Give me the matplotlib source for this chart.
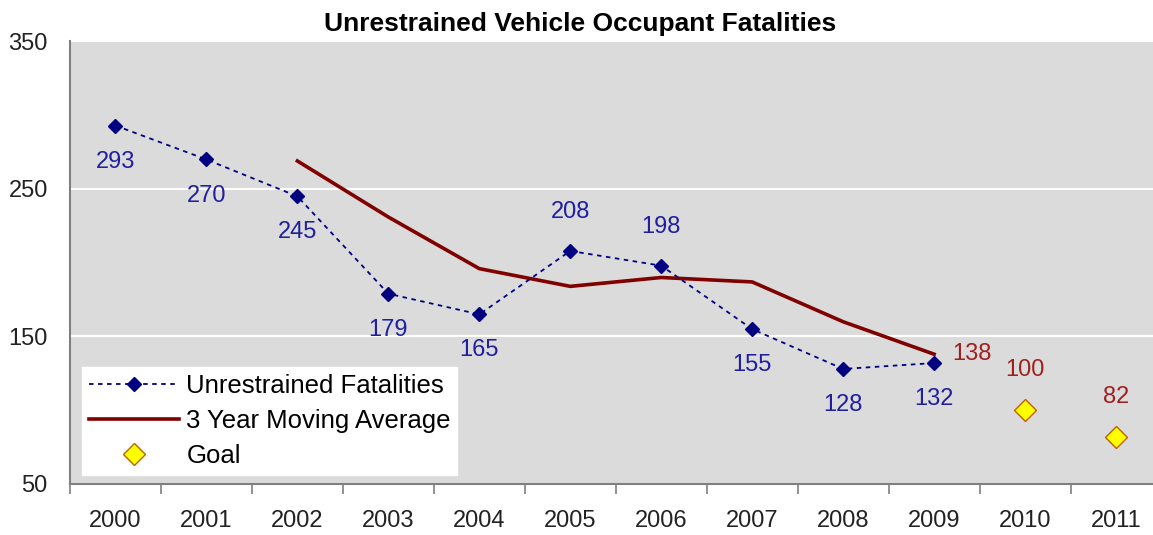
import matplotlib
matplotlib.use("Agg")
import matplotlib.pyplot as plt
from matplotlib.lines import Line2D

years = ["2000", "2001", "2002", "2003", "2004", "2005", "2006", "2007", "2008", "2009", "2010", "2011"]
fatalities = [293, 270, 245, 179, 165, 208, 198, 155, 128, 132]
moving_avg_years = [2, 3, 4, 5, 6, 7, 8, 9]
moving_avg = [269, 231, 196, 184, 190, 187, 160, 138]
goal_idx = [10, 11]
goal = [100, 82]
label_above = [False, False, False, False, False, True, True, False, False, False]

plt.rcParams['font.family'] = ['Liberation Sans', 'DejaVu Sans']

W, H = 1153, 535
fig = plt.figure(figsize=(W / 100, H / 100), dpi=100)
fig.patch.set_facecolor('white')
ax = fig.add_axes([70 / W, (H - 484) / H, (1161.5 - 70) / W, (484 - 41.5) / H])
ax.set_facecolor('#DBDBDB')

ax.set_xlim(-0.5, 11.5)
ax.set_ylim(50, 350)
ax.set_yticks([50, 150, 250, 350])
ax.grid(axis='y', color='white', linewidth=1.5)
ax.set_axisbelow(True)

FS = 17
x_f = list(range(len(fatalities)))
ax.plot(x_f, fatalities, color='#000080', linestyle=(0, (2.5, 2.5)), linewidth=1.3,
        marker='D', markersize=7, markerfacecolor='#000080', markeredgecolor='#000080', zorder=3)
ax.plot(moving_avg_years, moving_avg, color='#800000', linewidth=2.6, zorder=2)
ax.plot(goal_idx, goal, linestyle='none', marker='D', markersize=11,
        markerfacecolor='#FFFF00', markeredgecolor='#C06000', markeredgewidth=1.0, zorder=3)

for xi, v, above in zip(x_f, fatalities, label_above):
    dy = 28 if above else -26
    ax.annotate(str(v), (xi, v), xytext=(0, dy), textcoords='offset points',
                ha='center', va='center', color='#1F1F9F', fontsize=FS)
ax.annotate(str(moving_avg[-1]), (moving_avg_years[-1], moving_avg[-1]), xytext=(27, 0),
            textcoords='offset points', ha='center', va='center', color='#A02020', fontsize=FS)
for xi, v in zip(goal_idx, goal):
    ax.annotate(str(v), (xi, v), xytext=(0, 29), textcoords='offset points',
                ha='center', va='center', color='#A02020', fontsize=FS)

# category axis: labels at centers, ticks at boundaries
ax.set_xticks(range(len(years)))
ax.set_xticklabels(years, fontsize=FS, color='#222222')
ax.set_xticks([i - 0.5 for i in range(len(years) + 1)], minor=True)
ax.tick_params(axis='x', which='major', length=0, pad=19)
ax.tick_params(axis='x', which='minor', length=7, color='#808080', width=1.2)
ax.tick_params(axis='y', length=0, pad=16, labelsize=FS, labelcolor='#222222')

for s in ['top', 'right']:
    ax.spines[s].set_visible(False)
for s in ['left', 'bottom']:
    ax.spines[s].set_color('#808080')
    ax.spines[s].set_linewidth(1.5)

fig.text(580 / W, 1 - 24 / H, "Unrestrained Vehicle Occupant Fatalities", ha='center', va='center',
         fontsize=19, fontweight='bold', color='#000000')

handles = [
    Line2D([], [], color='#000080', linestyle=(0, (2.5, 2.5)), linewidth=1.3, marker='D', markersize=7),
    Line2D([], [], color='#800000', linewidth=2.6),
    Line2D([], [], linestyle='none', marker='D', markersize=11, markerfacecolor='#FFFF00',
           markeredgecolor='#C06000'),
]
leg = ax.legend(handles, ["Unrestrained Fatalities", "3 Year Moving Average", "Goal"],
                loc='lower left', bbox_to_anchor=((82 - 70) / (1161.5 - 70), (484 - 475) / (484 - 41.5)),
                frameon=True, fancybox=False, edgecolor='white', facecolor='white', framealpha=1,
                fontsize=18.5, handlelength=3.5, handletextpad=0.3, borderpad=0.26,
                labelspacing=0.44, borderaxespad=0)
fig.savefig('out.png', dpi=100)
